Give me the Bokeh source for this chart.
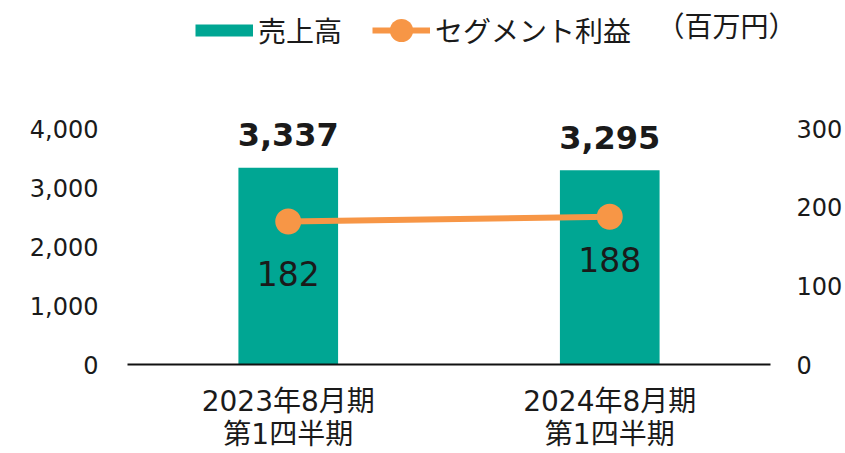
from bokeh.plotting import figure
from bokeh.models import (ColumnDataSource, Range1d, LinearAxis, Legend, LegendItem,
                          LabelSet, Title, NumeralTickFormatter, FixedTicker, FactorRange)
from bokeh.core.properties import value
from bokeh.embed import file_html
from bokeh.resources import INLINE

categories = ["2023年8月期\n第1四半期", "2024年8月期\n第1四半期"]
sales = [3337, 3295]
profit = [182, 188]
sales_labels = ["3,337", "3,295"]
profit_labels = ["182", "188"]
left_ticks = [0, 1000, 2000, 3000, 4000]
right_ticks = [0, 100, 200, 300]
series_names = ["売上高", "セグメント利益"]
unit_text = "（百万円）"

# layout (pixels)
profit_label_offsets = [-52, -43]
FRAME_H = 366          # frame from canvas top to the baseline
AXIS_TOP_PX = 237      # pixels from baseline to the 4,000 / 300 tick
LEGEND_ROW_H = 58

FONT_JP = "Noto Sans CJK JP"
FONT_NUM = "DejaVu Sans"
FONT_MIX = "DejaVu Sans, Noto Sans CJK JP"
TEAL = "#00A693"
ORANGE = "#F79646"
TXT = "#1a1a1a"

src = ColumnDataSource(dict(cat=categories, sales=sales, profit=profit,
                            slab=sales_labels, plab=profit_labels,
                            poff=profit_label_offsets))

left_end = left_ticks[-1] * FRAME_H / AXIS_TOP_PX
right_end = right_ticks[-1] * FRAME_H / AXIS_TOP_PX

p = figure(width=845, height=453, x_range=FactorRange(*categories),
           y_range=Range1d(0, left_end), output_backend="svg", toolbar_location=None,
           min_border_left=127, min_border_right=75, min_border_top=0,
           min_border_bottom=453 - FRAME_H)
p.outline_line_color = None
p.xgrid.grid_line_color = None
p.ygrid.grid_line_color = None
p.x_range.range_padding = 0
p.extra_y_ranges = {"profit": Range1d(0, right_end),
                    # off-screen range used only by the legend swatch proxy
                    "keyproxy": Range1d(-2 * left_end, -left_end)}

bars = p.vbar(x="cat", top="sales", width=0.31, source=src, fill_color=TEAL, line_color=None)
ln = p.line(x="cat", y="profit", source=src, y_range_name="profit", line_color=ORANGE, line_width=6)
pts = p.scatter(x="cat", y="profit", source=src, y_range_name="profit", size=26,
                fill_color=ORANGE, line_color=None)
# legend proxy for the bar series (flat swatch), mapped outside the visible frame
bar_key = p.line(x="cat", y="sales", source=src, y_range_name="keyproxy",
                 line_color=TEAL, line_width=12, line_cap="butt")

ly = p.yaxis[0]
ly.ticker = FixedTicker(ticks=left_ticks)
ly.formatter = NumeralTickFormatter(format="0,0")

ry = LinearAxis(y_range_name="profit", ticker=FixedTicker(ticks=right_ticks))
p.add_layout(ry, "right")

for ax in (ly, ry):
    ax.axis_line_color = None
    ax.major_tick_line_color = None
    ax.minor_tick_line_color = None
    ax.major_tick_out = 0
    ax.major_tick_in = 0
    ax.minor_tick_out = 0
    ax.major_label_text_font = FONT_NUM
    ax.major_label_text_font_size = "24px"
    ax.major_label_text_color = TXT
ly.major_label_standoff = 29
ry.major_label_standoff = 26

xa = p.xaxis[0]
xa.axis_line_color = "#111111"
xa.axis_line_width = 2
xa.major_tick_line_color = None
xa.minor_tick_line_color = None
xa.major_tick_out = 0
xa.major_tick_in = 0
xa.major_label_text_font = FONT_MIX
xa.major_label_text_font_size = "28px"
xa.major_label_text_line_height = 1.0
xa.major_label_text_color = TXT
xa.major_label_standoff = 20

sl = LabelSet(x="cat", y="sales", text="slab", source=src, text_align="center",
              text_baseline="middle", y_offset=33, text_font=value(FONT_NUM),
              text_font_size="32px", text_font_style="bold", text_color=TXT)
pl = LabelSet(x="cat", y="profit", text="plab", source=src, y_range_name="profit",
              text_align="center", text_baseline="middle", y_offset="poff",
              text_font=value(FONT_NUM), text_font_size="33px", text_color=TXT)
p.add_layout(sl)
p.add_layout(pl)

leg = Legend(items=[LegendItem(label=series_names[0], renderers=[bar_key]),
                    LegendItem(label=series_names[1], renderers=[ln, pts])],
             orientation="horizontal", location=(68, FRAME_H - 3 - LEGEND_ROW_H),
             glyph_width=58, glyph_height=LEGEND_ROW_H, label_height=LEGEND_ROW_H, spacing=30,
             label_standoff=5, label_text_font=FONT_JP, label_text_font_size="28px",
             label_text_color=TXT, border_line_color=None, background_fill_alpha=0,
             padding=0, margin=0)
p.add_layout(leg, "center")

unit = Title(text=unit_text, align="left", offset=529, vertical_align="bottom",
             standoff=-88, text_font=FONT_JP, text_font_size="28px",
             text_font_style="normal", text_color=TXT)
p.add_layout(unit, "above")

open("out.html", "w").write(file_html(p, INLINE))
